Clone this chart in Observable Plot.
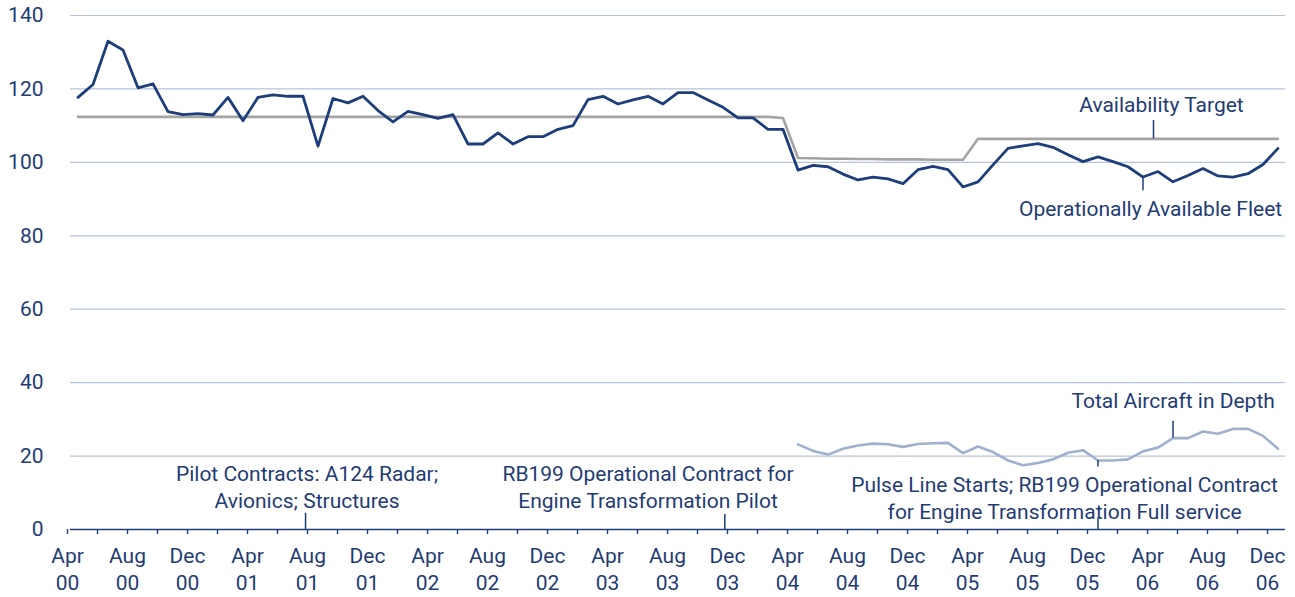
<!DOCTYPE html>
<html><head><meta charset="utf-8">
<script src="https://cdn.jsdelivr.net/npm/d3@7"></script>
<script src="https://cdn.jsdelivr.net/npm/@observablehq/plot@0.6"></script>
<style>
html,body{margin:0;padding:0;background:#fff;}
#chart svg{display:block;}
</style></head>
<body><div id="chart"></div>
<script>
// Month index 0 = Apr 00 ... 80 = Dec 06 (monthly values)
const tickLabels = ["Apr\n00","Aug\n00","Dec\n00","Apr\n01","Aug\n01","Dec\n01","Apr\n02","Aug\n02","Dec\n02",
  "Apr\n03","Aug\n03","Dec\n03","Apr\n04","Aug\n04","Dec\n04","Apr\n05","Aug\n05","Dec\n05","Apr\n06","Aug\n06","Dec\n06"];

const fleet = [117.7,121.2,133.0,130.6,120.3,121.4,113.8,113.0,113.3,112.9,117.7,111.3,
  117.7,118.4,118.0,118.0,104.4,117.4,116.2,118.0,114.1,111.0,113.9,113.0,
  112.0,113.0,105.0,105.0,108.0,105.0,107.0,107.0,109.0,110.0,117.1,118.0,
  115.9,117.0,118.0,115.9,119.0,119.0,117.0,115.0,112.1,112.1,109.0,109.0,
  97.9,99.2,98.8,96.8,95.2,96.0,95.5,94.2,98.0,98.9,98.0,93.3,
  94.7,99.3,103.8,104.5,105.1,104.1,102.1,100.2,101.5,100.2,98.8,96.0,
  97.5,94.7,96.4,98.3,96.3,96.0,96.9,99.4,103.8];

const target = [112.4,112.4,112.4,112.4,112.4,112.4,112.4,112.4,112.4,112.4,112.4,112.4,
  112.4,112.4,112.4,112.4,112.4,112.4,112.4,112.4,112.4,112.4,112.4,112.4,
  112.4,112.4,112.4,112.4,112.4,112.4,112.4,112.4,112.4,112.4,112.4,112.4,
  112.4,112.4,112.4,112.4,112.4,112.4,112.4,112.4,112.4,112.4,112.4,112.1,
  101.2,101.1,101.0,101.0,100.9,100.9,100.8,100.8,100.8,100.7,100.7,100.7,
  106.4,106.4,106.4,106.4,106.4,106.4,106.4,106.4,106.4,106.4,106.4,106.4,
  106.4,106.4,106.4,106.4,106.4,106.4,106.4,106.4,106.4];

// Total Aircraft in Depth: starts Apr 04 (month index 48)
const depthStart = 48;
const depth = [23.2,21.4,20.4,22.0,22.9,23.4,23.2,22.5,23.3,23.5,23.6,20.8,
  22.6,21.1,18.8,17.5,18.1,19.1,20.9,21.6,18.8,18.8,19.1,21.3,
  22.3,24.9,24.9,26.7,26.1,27.4,27.4,25.5,22.0];

const yTicks = [0,20,40,60,80,100,120,140];

const annotations = [
  {text: "Availability Target", m: 72.73, v: 116.0, anchor: "middle"},
  {text: "Operationally Available Fleet", m: 80.78, v: 87.2, anchor: "end"},
  {text: "Total Aircraft in Depth", m: 80.29, v: 34.8, anchor: "end"},
  {text: "Pulse Line Starts; RB199 Operational Contract\nfor Engine Transformation Full service", m: 66.27, v: 9.0, anchor: "middle"},
  {text: "Pilot Contracts: A124 Radar;\nAvionics; Structures", m: 15.77, v: 12.0, anchor: "middle"},
  {text: "RB199 Operational Contract for\nEngine Transformation Pilot", m: 38.5, v: 12.0, anchor: "middle"}
];
const leaders = [
  {m: 72.2, v1: target[72], v2: 111.4},
  {m: 71.5, v1: fleet[71], v2: 92.3},
  {m: 73.5, v1: depth[73 - depthStart], v2: 29.5},
  {m: 68.5, v1: depth[68 - depthStart], v2: 17.0},
  {m: 68.5, v1: 0, v2: 3.2},
  {m: 15.67, v1: 0, v2: 4.4},
  {m: 43.62, v1: 0, v2: 4.1}
];

const navy = "#1d3e7b", grid = "#b6c3da", grey = "#a4a4a4", light = "#9fb0cf", textC = "#1f3c74";

const chart = Plot.plot({
  width: 1295, height: 597,
  marginTop: 15, marginBottom: 68, marginLeft: 70, marginRight: 10,
  x: {domain: [0, 81], axis: null},
  y: {domain: [0, 140], axis: null},
  style: {fontFamily: "Roboto", fontSize: "21px", background: "#fff", color: textC},
  marks: [
    Plot.gridY(yTicks.filter(d => d > 0), {stroke: grid, strokeOpacity: 1, strokeWidth: 1.2}),
    Plot.axisY(yTicks, {tickSize: 0, tickPadding: 27, fontSize: 21, fill: textC, label: null}),
    Plot.ruleY([0], {stroke: navy, strokeWidth: 1.6}),
    Plot.axisX(d3.range(0, 81, 2), {tickSize: 5, stroke: navy, strokeWidth: 1.4, tickPadding: 10, dx: -3,
      fontSize: 21, fill: textC, lineHeight: 1.27, label: null,
      tickFormat: d => d % 4 === 0 ? tickLabels[d / 4] : ""}),
    Plot.line(target, {x: (d, i) => i + 0.5, y: d => d, stroke: grey, strokeWidth: 2.6}),
    Plot.line(depth, {x: (d, i) => i + depthStart + 0.5, y: d => d, stroke: light, strokeWidth: 2.6}),
    Plot.line(fleet, {x: (d, i) => i + 0.5, y: d => d, stroke: navy, strokeWidth: 2.8}),
    Plot.ruleX(leaders, {x: "m", y1: "v1", y2: "v2", stroke: navy, strokeWidth: 1.5}),
    Plot.text(annotations.filter(a => a.anchor === "middle"), {x: "m", y: "v", text: "text", textAnchor: "middle",
      lineAnchor: "middle", lineHeight: 1.29, fontSize: 21, fill: textC}),
    Plot.text(annotations.filter(a => a.anchor === "end"), {x: "m", y: "v", text: "text", textAnchor: "end",
      lineAnchor: "middle", fontSize: 21, fill: textC})
  ]
});
document.getElementById("chart").appendChild(chart);
</script>
</body></html>
